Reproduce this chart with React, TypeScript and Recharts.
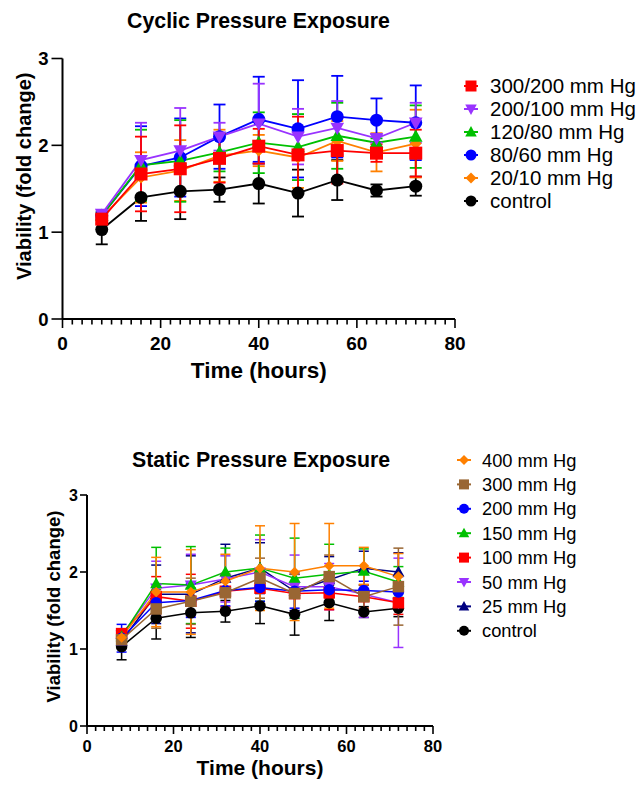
import React from 'react';
import { LineChart, Line, XAxis, YAxis, ErrorBar, Legend, Label } from 'recharts';

// sampling times (hours)
const hours = [8, 16, 24, 32, 40, 48, 56, 64, 72];
const majorTicks = [0, 20, 40, 60, 80];
const yTicks = [0, 1, 2, 3];

// control (shared by both panels)
const controlMean = [1.03, 1.4, 1.47, 1.49, 1.56, 1.45, 1.6, 1.48, 1.53];
const controlSd = [0.17, 0.27, 0.32, 0.14, 0.23, 0.27, 0.23, 0.07, 0.11];

// cyclic pressure
const cyc300Mean = [1.15, 1.67, 1.73, 1.85, 1.99, 1.89, 1.94, 1.91, 1.91];
const cyc300Sd = [0.05, 0.43, 0.5, 0.28, 0.2, 0.44, 0.38, 0.1, 0.27];
const cyc200Mean = [1.21, 1.83, 1.94, 2.1, 2.25, 2.1, 2.2, 2.08, 2.26];
const cyc200Sd = [0.04, 0.43, 0.49, 0.16, 0.46, 0.32, 0.31, 0.05, 0.23];
const cyc120Mean = [1.19, 1.77, 1.82, 1.92, 2.03, 1.98, 2.11, 2.03, 2.1];
const cyc120Sd = [0.04, 0.41, 0.47, 0.22, 0.35, 0.38, 0.38, 0.05, 0.36];
const cyc80Mean = [1.19, 1.76, 1.86, 2.1, 2.3, 2.19, 2.33, 2.29, 2.26];
const cyc80Sd = [0.04, 0.46, 0.45, 0.37, 0.49, 0.56, 0.47, 0.25, 0.43];
const cyc20Mean = [1.17, 1.63, 1.71, 1.88, 1.94, 1.86, 2.05, 1.92, 2.02];
const cyc20Sd = [0.04, 0.29, 0.35, 0.3, 0.18, 0.35, 0.23, 0.22, 0.39];

// static pressure
const st400Mean = [1.15, 1.74, 1.74, 1.88, 2.05, 2.0, 2.08, 2.08, 1.94];
const st400Sd = [0.05, 0.45, 0.55, 0.35, 0.55, 0.63, 0.55, 0.24, 0.3];
const st300Mean = [1.12, 1.52, 1.62, 1.73, 1.92, 1.72, 1.94, 1.68, 1.81];
const st300Sd = [0.05, 0.25, 0.3, 0.25, 0.26, 0.25, 0.28, 0.15, 0.5];
const st200Mean = [1.14, 1.6, 1.63, 1.76, 1.8, 1.75, 1.77, 1.76, 1.74];
const st200Sd = [0.18, 0.2, 0.22, 0.2, 0.18, 0.22, 0.2, 0.12, 0.2];
const st150Mean = [1.16, 1.85, 1.83, 2.0, 2.05, 1.92, 1.97, 2.01, 1.87];
const st150Sd = [0.06, 0.47, 0.5, 0.31, 0.43, 0.52, 0.39, 0.29, 0.2];
const st100Mean = [1.2, 1.68, 1.62, 1.75, 1.79, 1.72, 1.73, 1.68, 1.6];
const st100Sd = [0.06, 0.26, 0.35, 0.2, 0.22, 0.25, 0.22, 0.15, 0.15];
const st50Mean = [1.18, 1.79, 1.83, 1.91, 2.0, 1.81, 1.81, 1.71, 1.6];
const st50Sd = [0.05, 0.35, 0.4, 0.3, 0.42, 0.41, 0.3, 0.3, 0.58];
const st25Mean = [1.1, 1.71, 1.71, 1.92, 2.05, 1.75, 1.9, 2.05, 2.0];
const st25Sd = [0.05, 0.38, 0.5, 0.44, 0.33, 0.25, 0.3, 0.22, 0.25];

type Shape = 'circle' | 'square' | 'up' | 'down' | 'diamond';

interface Series {
  key: string;
  name: string;
  color: string;
  shape: Shape;
  mean: number[];
  sd: number[];
}

// legend order
const cyclicSeries: Series[] = [
  { key: 'c300', name: '300/200 mm Hg', color: '#FF0000', shape: 'square', mean: cyc300Mean, sd: cyc300Sd },
  { key: 'c200', name: '200/100 mm Hg', color: '#9933FF', shape: 'down', mean: cyc200Mean, sd: cyc200Sd },
  { key: 'c120', name: '120/80 mm Hg', color: '#00C000', shape: 'up', mean: cyc120Mean, sd: cyc120Sd },
  { key: 'c80', name: '80/60 mm Hg', color: '#0000FF', shape: 'circle', mean: cyc80Mean, sd: cyc80Sd },
  { key: 'c20', name: '20/10 mm Hg', color: '#FF8000', shape: 'diamond', mean: cyc20Mean, sd: cyc20Sd },
  { key: 'ctl', name: 'control', color: '#000000', shape: 'circle', mean: controlMean, sd: controlSd },
];

const staticSeries: Series[] = [
  { key: 's400', name: '400 mm Hg', color: '#FF8000', shape: 'diamond', mean: st400Mean, sd: st400Sd },
  { key: 's300', name: '300 mm Hg', color: '#996633', shape: 'square', mean: st300Mean, sd: st300Sd },
  { key: 's200', name: '200 mm Hg', color: '#0000FF', shape: 'circle', mean: st200Mean, sd: st200Sd },
  { key: 's150', name: '150 mm Hg', color: '#00C000', shape: 'up', mean: st150Mean, sd: st150Sd },
  { key: 's100', name: '100 mm Hg', color: '#FF0000', shape: 'square', mean: st100Mean, sd: st100Sd },
  { key: 's50', name: '50 mm Hg', color: '#9933FF', shape: 'down', mean: st50Mean, sd: st50Sd },
  { key: 's25', name: '25 mm Hg', color: '#000080', shape: 'up', mean: st25Mean, sd: st25Sd },
  { key: 'ctl', name: 'control', color: '#000000', shape: 'circle', mean: controlMean, sd: controlSd },
];

const buildRows = (series: Series[]) =>
  hours.map((h, i) => {
    const row: Record<string, number> = { h };
    series.forEach((s) => {
      row[s.key] = s.mean[i];
      row[s.key + 'Sd'] = s.sd[i];
    });
    return row;
  });

const cyclicRows = buildRows(cyclicSeries);
const staticRows = buildRows(staticSeries);

const allXTicks: number[] = [];
for (let t = 0; t <= 80; t += 2) allXTicks.push(t);

const FONT = '"Liberation Sans", Arial, Helvetica, sans-serif';

const Marker = ({ shape, cx, cy, size, color }: any) => {
  const r = size / 2;
  if (cx == null || cy == null) return null;
  switch (shape) {
    case 'square':
      return <rect x={cx - r} y={cy - r} width={size} height={size} fill={color} />;
    case 'up':
      return (
        <polygon
          points={`${cx},${cy - r * 1.1} ${cx + r * 1.05},${cy + r * 0.8} ${cx - r * 1.05},${cy + r * 0.8}`}
          fill={color}
        />
      );
    case 'down':
      return (
        <polygon
          points={`${cx},${cy + r * 1.1} ${cx + r * 1.05},${cy - r * 0.8} ${cx - r * 1.05},${cy - r * 0.8}`}
          fill={color}
        />
      );
    case 'diamond':
      return (
        <polygon
          points={`${cx},${cy - r} ${cx + r},${cy} ${cx},${cy + r} ${cx - r},${cy}`}
          fill={color}
        />
      );
    default:
      return <circle cx={cx} cy={cy} r={r} fill={color} />;
  }
};

const XTick = (props: any) => {
  const { x, y, payload, majorLen, minorLen, gap, fontSize } = props;
  const isMajor = majorTicks.includes(payload.value);
  return (
    <g>
      <line x1={x} x2={x} y1={y} y2={y + (isMajor ? majorLen : minorLen)} stroke="#000" strokeWidth={1.6} />
      {isMajor && (
        <text x={x} y={y + gap} dy="0.71em" textAnchor="middle" fontSize={fontSize} fontWeight={700} fill="#000">
          {payload.value}
        </text>
      )}
    </g>
  );
};

const YTitle = (props: any) => {
  const { viewBox, dx, shift, fontSize } = props;
  if (!viewBox) return null;
  const cx = viewBox.x + dx;
  const cy = viewBox.y + viewBox.height / 2 + shift;
  return (
    <text
      x={cx}
      y={cy}
      dy="0.36em"
      transform={`rotate(-90 ${cx} ${cy})`}
      textAnchor="middle"
      fontSize={fontSize}
      fontWeight={700}
      fill="#000"
    >
      Viability (fold change)
    </text>
  );
};

const XTitle = (props: any) => {
  const { viewBox, baseline, fontSize } = props;
  if (!viewBox) return null;
  return (
    <text
      x={viewBox.x + viewBox.width / 2}
      y={viewBox.y + baseline}
      textAnchor="middle"
      fontSize={fontSize}
      fontWeight={700}
      fill="#000"
    >
      Time (hours)
    </text>
  );
};

const LegendBox = ({ series, width, height, markerX, textX, rowStart, rowStep, fontSize, markerSize }: any) => (
  <svg width={width} height={height} style={{ display: 'block' }}>
    {series.map((s: Series, i: number) => {
      const cy = rowStart + i * rowStep;
      return (
        <g key={s.key}>
          <line x1={markerX - 7} x2={markerX + 7} y1={cy} y2={cy} stroke={s.color} strokeWidth={2} />
          <Marker shape={s.shape} cx={markerX} cy={cy} size={markerSize} color={s.color} />
          <text x={textX} y={cy} dy="0.36em" fontSize={fontSize} fill="#000">
            {s.name}
          </text>
        </g>
      );
    })}
  </svg>
);

interface PanelProps {
  rows: Record<string, number>[];
  series: Series[];
  width: number;
  height: number;
  margin: { top: number; right: number; bottom: number; left: number };
  yAxisWidth: number;
  xAxisHeight: number;
  yTickFont: number;
  yTickSize: number;
  yTickMargin: number;
  xTickFont: number;
  xMajorLen: number;
  xMinorLen: number;
  xGap: number;
  yTitleFont: number;
  yTitleDx: number;
  yTitleShift: number;
  xTitleFont: number;
  xTitleBaseline: number;
  lineWidth: number;
  capWidth: number;
  markerSize: number;
  legend: any;
}

const Panel = (p: PanelProps) => {
  const drawOrder = [...p.series].reverse();
  return (
    <LineChart width={p.width} height={p.height} data={p.rows} margin={p.margin}>
      <XAxis
        dataKey="h"
        type="number"
        domain={[0, 80]}
        ticks={allXTicks}
        interval={0}
        tickSize={0}
        tickMargin={0}
        tickLine={false}
        axisLine={{ stroke: '#000', strokeWidth: 2 }}
        height={p.xAxisHeight}
        tick={(tp: any) => (
          <XTick {...tp} majorLen={p.xMajorLen} minorLen={p.xMinorLen} gap={p.xGap} fontSize={p.xTickFont} />
        )}
      >
        <Label content={(lp: any) => <XTitle {...lp} baseline={p.xTitleBaseline} fontSize={p.xTitleFont} />} />
      </XAxis>
      <YAxis
        type="number"
        domain={[0, 3]}
        ticks={yTicks}
        interval={0}
        width={p.yAxisWidth}
        tickSize={p.yTickSize}
        tickMargin={p.yTickMargin}
        axisLine={{ stroke: '#000', strokeWidth: 2 }}
        tickLine={{ stroke: '#000', strokeWidth: 1.6 }}
        tick={{ fill: '#000', fontSize: p.yTickFont, fontWeight: 700 }}
      >
        <Label
          content={(lp: any) => (
            <YTitle {...lp} dx={p.yTitleDx} shift={p.yTitleShift} fontSize={p.yTitleFont} />
          )}
        />
      </YAxis>
      <Legend
        layout="vertical"
        align="center"
        verticalAlign="middle"
        wrapperStyle={{
          position: 'absolute',
          left: p.legend.left,
          top: p.legend.top,
          width: p.legend.width,
          height: p.legend.height,
        }}
        content={() => <LegendBox series={p.series} {...p.legend} />}
      />
      {drawOrder.map((s) => (
        <Line
          key={s.key}
          dataKey={s.key}
          name={s.name}
          stroke={s.color}
          strokeWidth={p.lineWidth}
          isAnimationActive={false}
          activeDot={false}
          dot={(dp: any) => (
            <Marker
              key={`${s.key}-${dp.index}`}
              shape={s.shape}
              cx={dp.cx}
              cy={dp.cy}
              size={s.shape === 'diamond' ? p.markerSize - 1 : p.markerSize}
              color={s.color}
            />
          )}
        >
          <ErrorBar
            dataKey={s.key + 'Sd'}
            direction="y"
            width={p.capWidth}
            stroke={s.color}
            strokeWidth={p.lineWidth}
            isAnimationActive={false}
          />
        </Line>
      ))}
    </LineChart>
  );
};

export default function App() {
  return (
    <div
      style={{
        position: 'absolute',
        left: 0,
        top: 0,
        width: 636,
        height: 792,
        background: '#fff',
        fontFamily: FONT,
      }}
    >
      <div style={{ position: 'absolute', left: 0, top: 0 }}>
        <Panel
          rows={cyclicRows}
          series={cyclicSeries}
          width={636}
          height={400}
          margin={{ top: 58.5, right: 181, bottom: 11, left: 12.5 }}
          yAxisWidth={50}
          xAxisHeight={70}
          yTickFont={18.5}
          yTickSize={11}
          yTickMargin={3}
          xTickFont={19}
          xMajorLen={9}
          xMinorLen={5.5}
          xGap={18}
          yTitleFont={20}
          yTitleDx={11.7}
          yTitleShift={-12.5}
          xTitleFont={22.5}
          xTitleBaseline={59}
          lineWidth={1.8}
          capWidth={6}
          markerSize={13}
          legend={{
            left: 455,
            top: 70,
            width: 181,
            height: 145,
            markerX: 16,
            textX: 35,
            rowStart: 16,
            rowStep: 23,
            fontSize: 20.5,
            markerSize: 11,
          }}
        />
      </div>
      <div style={{ position: 'absolute', left: 0, top: 420 }}>
        <Panel
          rows={staticRows}
          series={staticSeries}
          width={636}
          height={372}
          margin={{ top: 75, right: 203, bottom: 6, left: 27 }}
          yAxisWidth={60}
          xAxisHeight={60}
          yTickFont={16}
          yTickSize={7}
          yTickMargin={2}
          xTickFont={16.5}
          xMajorLen={8}
          xMinorLen={5}
          xGap={14}
          yTitleFont={18.5}
          yTitleDx={26}
          yTitleShift={-4}
          xTitleFont={21}
          xTitleBaseline={49}
          lineWidth={1.5}
          capWidth={5}
          markerSize={11.5}
          legend={{
            left: 450,
            top: 20,
            width: 186,
            height: 200,
            markerX: 14,
            textX: 32,
            rowStart: 20,
            rowStep: 24.4,
            fontSize: 18.3,
            markerSize: 10,
          }}
        />
      </div>
      <svg
        width={636}
        height={792}
        style={{ position: 'absolute', left: 0, top: 0, pointerEvents: 'none' }}
      >
        <text x={258.5} y={27.5} textAnchor="middle" fontSize={21.3} fontWeight={700} fill="#000">
          Cyclic Pressure Exposure
        </text>
        <text x={261} y={466.5} textAnchor="middle" fontSize={21.3} fontWeight={700} fill="#000">
          Static Pressure Exposure
        </text>
      </svg>
    </div>
  );
}
